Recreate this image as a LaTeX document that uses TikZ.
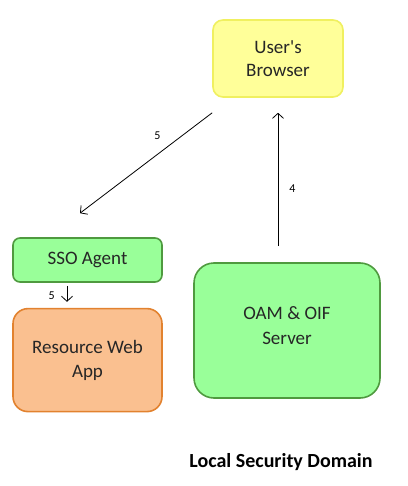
\documentclass[tikz,border=0pt]{standalone}
\usepackage{fontspec}
\setmainfont{Carlito}[Ligatures=TeXOff]
\usepackage{tikz}
\usetikzlibrary{arrows.meta, positioning}
\definecolor{browserfill}{HTML}{FFFF99}
\definecolor{browserline}{HTML}{F0F060}
\definecolor{greenfill}{HTML}{99FF99}
\definecolor{greenline}{HTML}{4F9A3F}
\definecolor{appfill}{HTML}{FAC090}
\definecolor{appline}{HTML}{E2822F}
\tikzstyle{box} = [rectangle, line width=1.6pt, inner sep=0pt, align=center, font=\fontsize{19}{23}\selectfont, text=black!85]
\tikzstyle{browserbox} = [box, rounded corners=10pt, draw=browserline, fill=browserfill, minimum width=130pt, minimum height=77pt]
\tikzstyle{agentbox} = [box, rounded corners=7pt, draw=greenline, fill=greenfill, minimum width=149pt, minimum height=44pt]
\tikzstyle{appbox} = [box, rounded corners=15pt, draw=appline, fill=appfill, minimum width=149pt, minimum height=103pt]
\tikzstyle{serverbox} = [box, rounded corners=20pt, draw=greenline, fill=greenfill, minimum width=186pt, minimum height=135pt]
\tikzstyle{arrow} = [line width=0.8pt, -{Straight Barb[length=5pt,width=11pt]}]
\tikzstyle{step label} = [inner sep=0pt, font=\fontsize{12}{14}\selectfont]

\begin{document}
\begin{tikzpicture}[x=1pt, y=-1pt]
\useasboundingbox (0,0) rectangle (407,486);
% Top
\node (browser) [browserbox] at (278,58.5) {User's\\Browser};
% Left column
\node (agent) [agentbox] at (87.5,260) {SSO Agent};
\node (app) [appbox, below=25pt of agent] {Resource Web\\[1pt]App};
% Right
\node (server) [serverbox, label={[align=center, font=\fontsize{19}{25}\selectfont, text=black!85, yshift=5pt]center:OAM \& OIF\\Server}] at (287,330.5) {};
% Domain name
\node (domain) [font=\fontsize{20}{24}\selectfont\bfseries] at (281,462) {Local Security Domain};

% Arrows
\draw [arrow] ([yshift=-15pt]browser.south west) -- node[step label, pos=0.4, above=13pt, xshift=-2pt] {5} ([shift={(-7.5pt,24pt)}]agent.north);
\draw [arrow, shorten <=16pt, shorten >=15pt] (browser.south |- server.north) -- node[step label, pos=0.45, right=11pt] {4} (browser.south);
\draw [arrow, shorten <=3pt, shorten >=6pt] ([xshift=-20.5pt]agent.south) -- node[step label, midway, left=12pt] {5} ([xshift=-20.5pt]app.north);
\end{tikzpicture}
\end{document}
